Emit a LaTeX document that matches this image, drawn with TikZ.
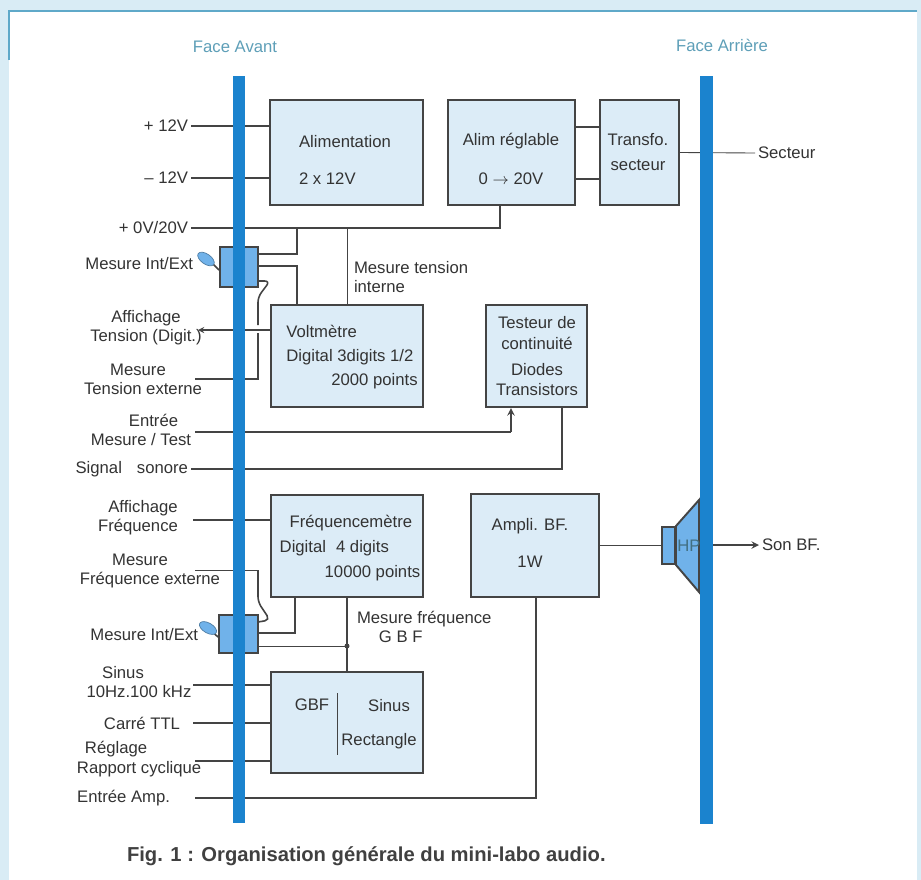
\documentclass[tikz,border=0pt]{standalone}
\usepackage{fontspec}
\usetikzlibrary{shapes.geometric}
\setmainfont{Liberation Sans}
\definecolor{pagebg}{HTML}{D9ECF5}
\definecolor{panelline}{HTML}{5FA9C9}
\definecolor{boxfill}{HTML}{DCECF7}
\definecolor{barblue}{HTML}{1B83CE}
\definecolor{partblue}{HTML}{70B2EA}
\definecolor{wirecol}{HTML}{444444}
\definecolor{headcol}{HTML}{5E9FB8}
\tikzstyle{box} = [draw=wirecol,fill=boxfill,line width=1.2pt,inner sep=0pt]
\tikzstyle{wire} = [draw=wirecol,line width=0.9pt]
\tikzstyle{thinwire} = [draw=wirecol,line width=0.5pt]
\tikzstyle{arrow} = [wire,->,>=stealth]
\tikzstyle{txt} = [font=\fontsize{9.5}{11}\selectfont,text=black!80,inner sep=0pt,outer xsep=0.06cm,align=center]
\tikzstyle{bar} = [fill=barblue,inner sep=0pt,minimum width=0.25cm,minimum height=14.96cm]
\tikzstyle{part} = [draw=wirecol,fill=partblue,line width=1.1pt,inner sep=0pt]
\tikzstyle{lever} = [draw=partblue!70!black,fill=partblue,line width=0.4pt,inner sep=0pt,ellipse,minimum width=0.38cm,minimum height=0.2cm]

\begin{document}
\begin{tikzpicture}[x=0.02cm,y=-0.02cm]
\useasboundingbox (0,0) rectangle (921,880);
\fill [pagebg] (0,0) rectangle (921,880);
\fill [white] (9,11) rectangle (917,880);
\draw [panelline,line width=0.7pt] (9,60) -- (9,11) -- (917,11);

% blocks
\node (alim) [box,minimum width=3.06cm,minimum height=2.1cm] at (346.5,152.5) {};
\node (reg) [box,minimum width=2.54cm,minimum height=2.1cm] at (511.5,152.5) {};
\node (transfo) [box,minimum width=1.58cm,minimum height=2.1cm] at (639.5,152.5) {};
\node (volt) [box,minimum width=3.04cm,minimum height=2.04cm] at (347,356) {};
\node (test) [box,minimum width=2.02cm,minimum height=2.04cm] at (536.5,356) {};
\node (freq) [box,minimum width=3.04cm,minimum height=2.04cm] at (347,546) {};
\node (ampli) [box,minimum width=2.56cm,minimum height=2.06cm] at (535,545.5) {};
\node (gbf) [box,minimum width=3.04cm,minimum height=2.02cm] at (347,722.5) {};

% switches and speaker
\node (sw1) [part,minimum width=0.76cm,minimum height=0.8cm] at (239,267) {};
\node (sw2) [part,minimum width=0.78cm,minimum height=0.76cm] at (238.5,634) {};
\node (hp) [part,minimum width=0.26cm,minimum height=0.74cm] at (668.5,545.5) {};
\draw [part] (hp.north east) -- (699,500) -- (699,592) -- (hp.south east) -- cycle;
\draw [wire] (sw1.west) ++(0,3) -- ++(-8,-8);
\draw [wire] (sw2.west) ++(0,3) -- ++(-9,-8);
\node (lev1) [lever,rotate=-35] at (206,259) {};
\node (lev2) [lever,rotate=-30] at (208,628) {};

% labels
\node (fa) [txt,text=headcol] at (235,47) {Face Avant};
\node (fb) [txt,text=headcol] at (722,45) {Face Arrière};
\node (p12) [txt,anchor=east] at (191,126) {+ 12V};
\node (m12) [txt,anchor=east] at (191,178) {-- 12V};
\node (v20) [txt,anchor=east] at (191,228) {+ 0V/20V};
\node (me1) [txt,anchor=east] at (196,264) {Mesure Int/Ext};
\node (af1) [txt] at (146,328) {Affichage\\Tension (Digit.)};
\node (mt) [txt] at (143,379) {Mesure\hspace*{0.2cm}\\Tension externe};
\node (et) [txt] at (141,430) {\hspace*{0.5cm}Entrée\\Mesure / Test};
\node (sg) [txt,anchor=east] at (191,469) {Signal\hspace{0.3cm}sonore};
\node (af2) [txt] at (138,518) {\hspace*{0.2cm}Affichage\\Fréquence};
\node (mf) [txt] at (150,571) {Mesure\hspace*{0.4cm}\\Fréquence externe};
\node (me2) [txt,anchor=east] at (201,635) {Mesure Int/Ext};
\node (si) [txt] at (139,682) {Sinus\hspace*{0.64cm}\\10Hz.100 kHz};
\node (ca) [txt,anchor=east] at (183,723) {Carré TTL};
\node (ra) [txt,anchor=west,align=left] at (74,759) {\hspace*{0.16cm}Réglage\\Rapport cyclique};
\node (ea) [txt,anchor=east] at (173,798) {Entrée Amp.};
\node (se) [txt,anchor=west] at (755,153) {Secteur};
\node (so) [txt,anchor=west] at (759,545) {Son BF.};
\node (hpt) [txt,text=headcol!70!black] at (689,546) {HP};

\node (t1) [txt,align=left] at (345,160) {Alimentation\\[10.5pt]2 x 12V};
\node (t2) [txt] at (511,159) {Alim réglable\\[11.6pt]0 $\rightarrow$ 20V};
\node (t3) [txt] at (638,152) {Transfo.\\[3.7pt]secteur};
\node (t4) [txt,align=left] at (352,357) {Voltmètre\\[2.6pt]Digital 3digits 1/2\\[2.6pt]\hspace*{0.9cm}2000 points};
\node (t5) [txt] at (537,356) {Testeur de\\[1pt]continuité\\[3.5pt]Diodes\\[0.5pt]Transistors};
\node (t6) [txt,align=left] at (350,548) {\hspace*{0.2cm}Fréquencemètre\\[3pt]Digital\hspace{0.2cm}4 digits\\[3pt]\hspace*{0.9cm}10000 points};
\node (t7) [txt] at (530,543) {Ampli. BF.\\[10.5pt]1W};
\node (t8) [txt] at (312,705) {GBF};
\node (t9) [txt] at (389,706) {Sinus};
\node (t10) [txt] at (379,741) {Rectangle};
\node (t11) [txt,align=left,anchor=west] at (351,277) {Mesure tension\\interne};
\node (t12) [txt,align=left,anchor=west] at (354,627) {Mesure fréquence\\\hspace*{0.44cm}G B F};
\node (cap) [txt,font=\fontsize{11.5}{13}\selectfont\bfseries,text=black!75,anchor=west] at (124,856) {Fig. 1 : Organisation générale du mini-labo audio.};

% connectors
\coordinate (ju1) at (297,228);
\coordinate (ju2) at (347,228);
\coordinate (ju3) at (347,646);
\coordinate (e1) at (198,330);
\coordinate (e2) at (195,379);
\coordinate (e3) at (195,432);
\coordinate (e4) at (193,520);
\coordinate (e5) at (195,570);
\coordinate (e6) at (193,685);
\coordinate (e7) at (193,723);
\coordinate (e8) at (195,761);
\coordinate (e9) at (195,798);
\draw [wire] (p12.east) -- (p12.east -| alim.west);
\draw [wire] (m12.east) -- (m12.east -| alim.west);
\draw [wire] (v20.east) -- (500,228) -- (500,0 |- reg.south);
\draw [wire] (reg.east |- 0,127) -- (transfo.west |- 0,127);
\draw [wire] (reg.east |- 0,179) -- (transfo.west |- 0,179);
\draw [thinwire] (transfo.east) -- (se.west);
\draw [wire] (ju1) -- (297,254) -- (sw1.east |- 0,254);
\draw [wire] (sw1.east |- 0,266) -- (297,266) -- (297,0 |- volt.north);
\draw [thinwire] (ju2) -- (ju2 |- volt.north);
\draw [wire,rounded corners=3pt] (sw1.east |- 0,281) -- (270,281) -- (258,297) -- (258,325);
\draw [wire] (258,333) -- (258,379) -- (e2);
\draw [arrow,line width=0.6pt] (volt.west |- e1) -- (e1);
\draw [wire] (e3) -- (511,432);
\draw [arrow] (511,432) -- (511,0 |- test.south);
\draw [wire] (sg.east) -- (562,469) -- (562,0 |- test.south);

\draw [wire] (e4) -- (freq.west |- e4);
\draw [thinwire] (e5) -- (258,570);
\draw [wire,rounded corners=3pt] (258,570) -- (258,602) -- (270,620) -- (258,622);
\draw [wire] (sw2.east |- 0,633) -- (295,633) -- (295,0 |- freq.south);
\draw [thinwire] (sw2.east |- 0,646) -- (ju3);
\draw [wire] (347,0 |- freq.south) -- (ju3) -- (347,0 |- gbf.north);
\fill [wirecol] (ju3) circle (0.05cm);
\draw [wire] (e6) -- (gbf.west |- e6);
\draw [wire] (e7) -- (gbf.west |- e7);
\draw [wire] (e8) -- (gbf.west |- e8);
\draw [wire] (e9) -- (536,798) -- (536,0 |- ampli.south);
\draw [thinwire] (ampli.east) -- (hp.west);
\draw [arrow] (713,545) -- (so.west);
\draw [thinwire] (337,693) -- (337,755);

% panels, drawn last
\node (front) [bar] at (239,449.5) {};
\node (rear) [bar] at (706.5,450) {};
\end{tikzpicture}
\end{document}
